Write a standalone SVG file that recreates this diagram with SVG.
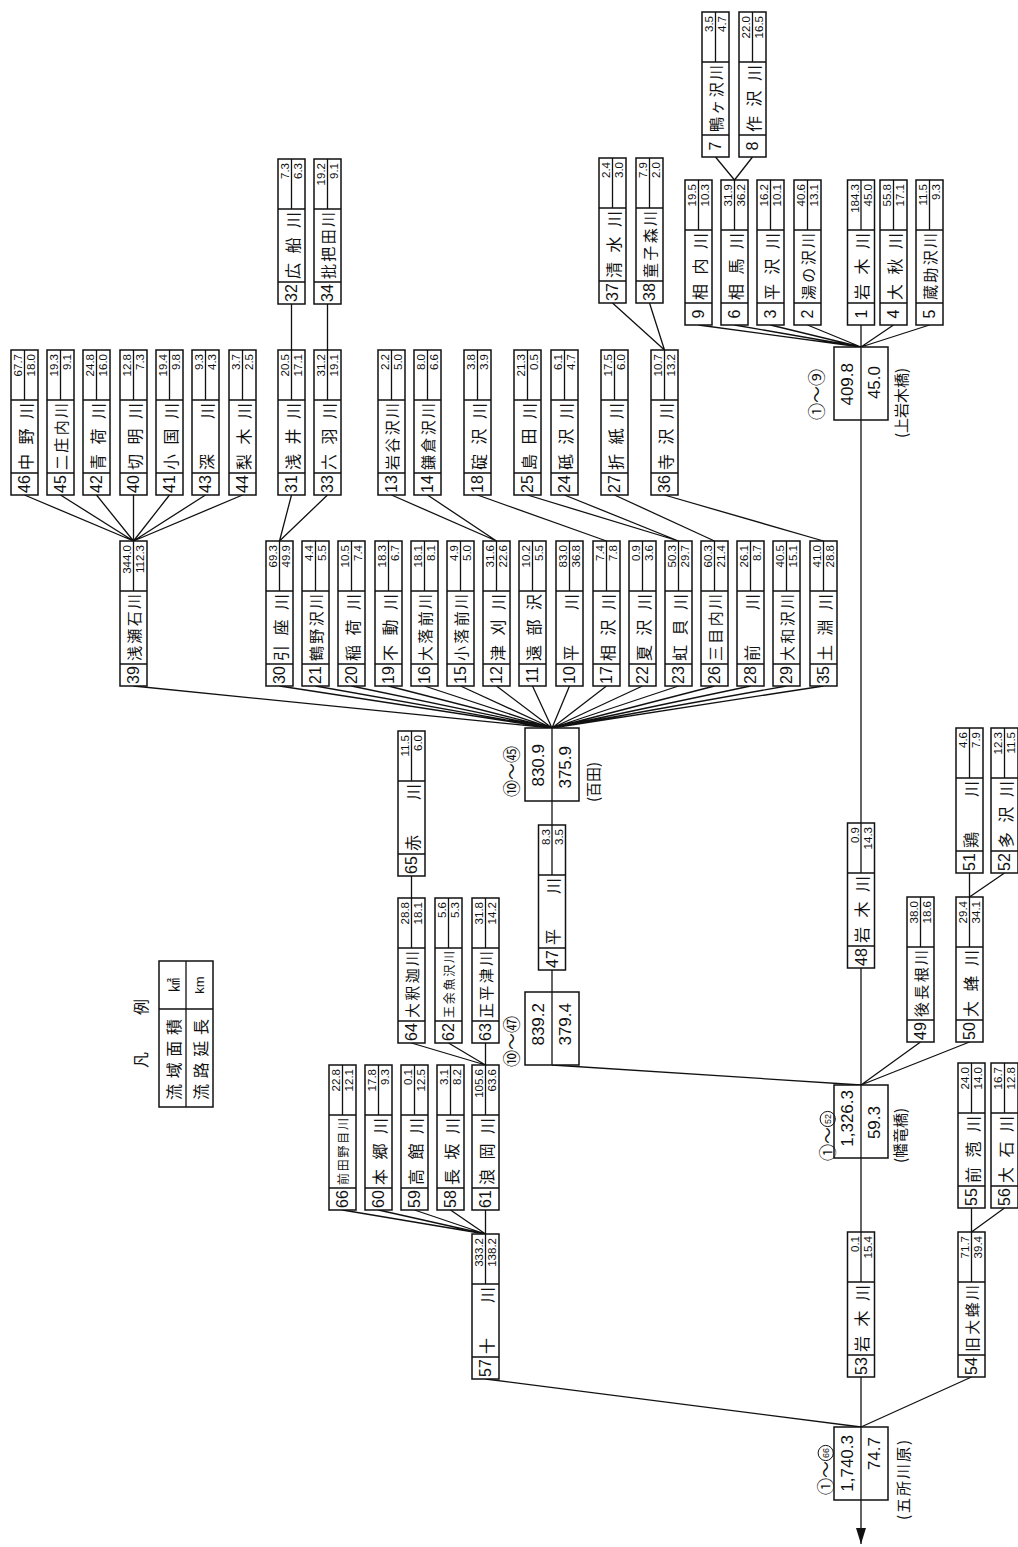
<svg xmlns="http://www.w3.org/2000/svg" width="1018" height="1547" viewBox="0 0 1018 1547">
<style>
.no{font-family:"Liberation Sans",Arial,sans-serif;font-size:16px;text-anchor:middle;dominant-baseline:central;fill:#111}
.n{font-family:"Noto Sans CJK JP",sans-serif;font-size:16px;dominant-baseline:central;fill:#111}
.n4{font-size:15px}
.n5{font-size:12px}
.v{font-family:"Liberation Sans",Arial,sans-serif;font-size:11.5px;text-anchor:end;dominant-baseline:central;fill:#111}
.sv{font-family:"Liberation Sans",Arial,sans-serif;font-size:17px;text-anchor:end;dominant-baseline:central;fill:#111}
.lb{font-family:"Noto Sans CJK JP",sans-serif;font-size:15px;fill:#111}
.cl{font-family:"Noto Sans CJK JP",sans-serif;font-size:17px;fill:#111}
.cn{font-family:"Liberation Sans",Arial,sans-serif;font-size:9px;text-anchor:middle;dominant-baseline:central;fill:#111}
.lg{font-family:"Noto Sans CJK JP",sans-serif;font-size:16px;fill:#111}
.d{fill:none;stroke:#111;stroke-width:1.3}
</style>
<defs>
<g id="tb"><rect width="145" height="27" fill="#fff" stroke="#111" stroke-width="1.5"/><path d="M22 0V27M95 0V27M95 13.5H145" fill="none" stroke="#111" stroke-width="1.3"/></g>
<g id="sb"><rect width="73" height="54" fill="#fff" stroke="#111" stroke-width="1.5"/><path d="M0 27H73" fill="none" stroke="#111" stroke-width="1.3"/></g>
<marker id="ah" markerUnits="userSpaceOnUse" markerWidth="16" markerHeight="10" refX="16" refY="5" orient="auto"><path d="M0 0L16 5L0 10z" fill="#111"/></marker>
</defs>
<rect width="1018" height="1547" fill="#fff"/>
<g id="connectors" class="d">
<path d="M715.5 157L734.5 180M752.5 157L734.5 180"/>
<path d="M698.5 325L861 347M734.5 325L861 347M770.5 325L861 347M807.5 325L861 347M861 325L861 347M893.5 325L861 347M929.5 325L861 347"/>
<path d="M291.5 304L291.5 350M327.5 304L327.5 350"/>
<path d="M612.5 303L664.5 350M649.5 303L664.5 350"/>
<path d="M24.5 495L133.5 541M60.5 495L133.5 541M96.5 495L133.5 541M133.5 495L133.5 541M169.5 495L133.5 541M205.5 495L133.5 541M242.5 495L133.5 541"/>
<path d="M291.5 495L279.5 541M327.5 495L279.5 541"/>
<path d="M391.5 495L496.5 541M427.5 495L496.5 541"/>
<path d="M477.5 495L606.5 541"/>
<path d="M527.5 495L678.5 541M564.5 495L678.5 541"/>
<path d="M614.5 495L714.5 541"/>
<path d="M664.5 495L823.5 541"/>
<path d="M133.5 686L552 728M279.5 686L552 728M315.5 686L552 728M351.5 686L552 728M388.5 686L552 728M424.5 686L552 728M460.5 686L552 728M496.5 686L552 728M532.5 686L552 728M569.5 686L552 728M606.5 686L552 728M642.5 686L552 728M678.5 686L552 728M714.5 686L552 728M750.5 686L552 728M786.5 686L552 728M823.5 686L552 728"/>
<path d="M552 801L552 992"/>
<path d="M552 1065L861 1085"/>
<path d="M861 420L861 1085"/>
<path d="M411.5 876L411.5 898"/>
<path d="M411.5 1043L485.5 1065M448.5 1043L485.5 1065M485.5 1043L485.5 1065"/>
<path d="M342.5 1210L485.5 1234M378.5 1210L485.5 1234M414.5 1210L485.5 1234M450.5 1210L485.5 1234M485.5 1210L485.5 1234"/>
<path d="M969.5 873L969.5 897M1004.5 873L969.5 897"/>
<path d="M920.5 1042L861 1085M969.5 1042L861 1085"/>
<path d="M861 1158L861 1427"/>
<path d="M971.5 1208L971.5 1232M1004.5 1208L971.5 1232"/>
<path d="M485.5 1379L861 1427M971.5 1377L861 1427"/>
<path d="M861 1500L861 1544" marker-end="url(#ah)"/>
</g>

<g id="r7" transform="translate(702,157) rotate(-90)"><use href="#tb"/><text class="no" x="11" y="13.5">7</text><text class="n n4" x="25 42.3 59.7 77" y="13.5">鴨ヶ沢川</text><text class="v" x="141" y="7.2">3.5</text><text class="v" x="141" y="20.3">4.7</text></g>
<g id="r8" transform="translate(739,157) rotate(-90)"><use href="#tb"/><text class="no" x="11" y="13.5">8</text><text class="n" x="25 50.5 76" y="13.5">作沢川</text><text class="v" x="141" y="7.2">22.0</text><text class="v" x="141" y="20.3">16.5</text></g>

<g id="r9" transform="translate(685,325) rotate(-90)"><use href="#tb"/><text class="no" x="11" y="13.5">9</text><text class="n" x="25 50.5 76" y="13.5">相内川</text><text class="v" x="141" y="7.2">19.5</text><text class="v" x="141" y="20.3">10.3</text></g>
<g id="r6" transform="translate(721,325) rotate(-90)"><use href="#tb"/><text class="no" x="11" y="13.5">6</text><text class="n" x="25 50.5 76" y="13.5">相馬川</text><text class="v" x="141" y="7.2">31.9</text><text class="v" x="141" y="20.3">36.2</text></g>
<g id="r3" transform="translate(757,325) rotate(-90)"><use href="#tb"/><text class="no" x="11" y="13.5">3</text><text class="n" x="25 50.5 76" y="13.5">平沢川</text><text class="v" x="141" y="7.2">16.2</text><text class="v" x="141" y="20.3">10.1</text></g>
<g id="r2" transform="translate(794,325) rotate(-90)"><use href="#tb"/><text class="no" x="11" y="13.5">2</text><text class="n n4" x="25 42.3 59.7 77" y="13.5">湯の沢川</text><text class="v" x="141" y="7.2">40.6</text><text class="v" x="141" y="20.3">13.1</text></g>
<g id="r1" transform="translate(847.5,325) rotate(-90)"><use href="#tb"/><text class="no" x="11" y="13.5">1</text><text class="n" x="25 50.5 76" y="13.5">岩木川</text><text class="v" x="141" y="7.2">184.3</text><text class="v" x="141" y="20.3">45.0</text></g>
<g id="r4" transform="translate(880,325) rotate(-90)"><use href="#tb"/><text class="no" x="11" y="13.5">4</text><text class="n" x="25 50.5 76" y="13.5">大秋川</text><text class="v" x="141" y="7.2">55.8</text><text class="v" x="141" y="20.3">17.1</text></g>
<g id="r5" transform="translate(916,325) rotate(-90)"><use href="#tb"/><text class="no" x="11" y="13.5">5</text><text class="n n4" x="25 42.3 59.7 77" y="13.5">蔵助沢川</text><text class="v" x="141" y="7.2">11.5</text><text class="v" x="141" y="20.3">9.3</text></g>

<g id="r32" transform="translate(278,304) rotate(-90)"><use href="#tb"/><text class="no" x="11" y="13.5">32</text><text class="n" x="25 50.5 76" y="13.5">広船川</text><text class="v" x="141" y="7.2">7.3</text><text class="v" x="141" y="20.3">6.3</text></g>
<g id="r34" transform="translate(314,304) rotate(-90)"><use href="#tb"/><text class="no" x="11" y="13.5">34</text><text class="n n4" x="25 42.3 59.7 77" y="13.5">批把田川</text><text class="v" x="141" y="7.2">19.2</text><text class="v" x="141" y="20.3">9.1</text></g>
<g id="r37" transform="translate(599,303) rotate(-90)"><use href="#tb"/><text class="no" x="11" y="13.5">37</text><text class="n" x="25 50.5 76" y="13.5">清水川</text><text class="v" x="141" y="7.2">2.4</text><text class="v" x="141" y="20.3">3.0</text></g>
<g id="r38" transform="translate(636,303) rotate(-90)"><use href="#tb"/><text class="no" x="11" y="13.5">38</text><text class="n n4" x="25 42.3 59.7 77" y="13.5">童子森川</text><text class="v" x="141" y="7.2">7.9</text><text class="v" x="141" y="20.3">2.0</text></g>

<g id="r46" transform="translate(11,495) rotate(-90)"><use href="#tb"/><text class="no" x="11" y="13.5">46</text><text class="n" x="25 50.5 76" y="13.5">中野川</text><text class="v" x="141" y="7.2">67.7</text><text class="v" x="141" y="20.3">18.0</text></g>
<g id="r45" transform="translate(47,495) rotate(-90)"><use href="#tb"/><text class="no" x="11" y="13.5">45</text><text class="n n4" x="25 42.3 59.7 77" y="13.5">二庄内川</text><text class="v" x="141" y="7.2">19.3</text><text class="v" x="141" y="20.3">9.1</text></g>
<g id="r42" transform="translate(83,495) rotate(-90)"><use href="#tb"/><text class="no" x="11" y="13.5">42</text><text class="n" x="25 50.5 76" y="13.5">青荷川</text><text class="v" x="141" y="7.2">24.8</text><text class="v" x="141" y="20.3">16.0</text></g>
<g id="r40" transform="translate(120,495) rotate(-90)"><use href="#tb"/><text class="no" x="11" y="13.5">40</text><text class="n" x="25 50.5 76" y="13.5">切明川</text><text class="v" x="141" y="7.2">12.8</text><text class="v" x="141" y="20.3">7.3</text></g>
<g id="r41" transform="translate(156,495) rotate(-90)"><use href="#tb"/><text class="no" x="11" y="13.5">41</text><text class="n" x="25 50.5 76" y="13.5">小国川</text><text class="v" x="141" y="7.2">19.4</text><text class="v" x="141" y="20.3">9.8</text></g>
<g id="r43" transform="translate(192,495) rotate(-90)"><use href="#tb"/><text class="no" x="11" y="13.5">43</text><text class="n" x="25 76" y="13.5">深川</text><text class="v" x="141" y="7.2">9.3</text><text class="v" x="141" y="20.3">4.3</text></g>
<g id="r44" transform="translate(229,495) rotate(-90)"><use href="#tb"/><text class="no" x="11" y="13.5">44</text><text class="n" x="25 50.5 76" y="13.5">梨木川</text><text class="v" x="141" y="7.2">3.7</text><text class="v" x="141" y="20.3">2.5</text></g>
<g id="r31" transform="translate(278,495) rotate(-90)"><use href="#tb"/><text class="no" x="11" y="13.5">31</text><text class="n" x="25 50.5 76" y="13.5">浅井川</text><text class="v" x="141" y="7.2">20.5</text><text class="v" x="141" y="20.3">17.1</text></g>
<g id="r33" transform="translate(314,495) rotate(-90)"><use href="#tb"/><text class="no" x="11" y="13.5">33</text><text class="n" x="25 50.5 76" y="13.5">六羽川</text><text class="v" x="141" y="7.2">31.2</text><text class="v" x="141" y="20.3">19.1</text></g>
<g id="r13" transform="translate(378,495) rotate(-90)"><use href="#tb"/><text class="no" x="11" y="13.5">13</text><text class="n n4" x="25 42.3 59.7 77" y="13.5">岩谷沢川</text><text class="v" x="141" y="7.2">2.2</text><text class="v" x="141" y="20.3">5.0</text></g>
<g id="r14" transform="translate(414,495) rotate(-90)"><use href="#tb"/><text class="no" x="11" y="13.5">14</text><text class="n n4" x="25 42.3 59.7 77" y="13.5">鎌倉沢川</text><text class="v" x="141" y="7.2">8.0</text><text class="v" x="141" y="20.3">6.6</text></g>
<g id="r18" transform="translate(464,495) rotate(-90)"><use href="#tb"/><text class="no" x="11" y="13.5">18</text><text class="n" x="25 50.5 76" y="13.5">碇沢川</text><text class="v" x="141" y="7.2">3.8</text><text class="v" x="141" y="20.3">3.9</text></g>
<g id="r25" transform="translate(514,495) rotate(-90)"><use href="#tb"/><text class="no" x="11" y="13.5">25</text><text class="n" x="25 50.5 76" y="13.5">島田川</text><text class="v" x="141" y="7.2">21.3</text><text class="v" x="141" y="20.3">0.5</text></g>
<g id="r24" transform="translate(551,495) rotate(-90)"><use href="#tb"/><text class="no" x="11" y="13.5">24</text><text class="n" x="25 50.5 76" y="13.5">砥沢川</text><text class="v" x="141" y="7.2">6.1</text><text class="v" x="141" y="20.3">4.7</text></g>
<g id="r27" transform="translate(601,495) rotate(-90)"><use href="#tb"/><text class="no" x="11" y="13.5">27</text><text class="n" x="25 50.5 76" y="13.5">折紙川</text><text class="v" x="141" y="7.2">17.5</text><text class="v" x="141" y="20.3">6.0</text></g>
<g id="r36" transform="translate(651,495) rotate(-90)"><use href="#tb"/><text class="no" x="11" y="13.5">36</text><text class="n" x="25 50.5 76" y="13.5">寺沢川</text><text class="v" x="141" y="7.2">10.7</text><text class="v" x="141" y="20.3">13.2</text></g>

<g id="r39" transform="translate(120,686) rotate(-90)"><use href="#tb"/><text class="no" x="11" y="13.5">39</text><text class="n n4" x="25 42.3 59.7 77" y="13.5">浅瀬石川</text><text class="v" x="141" y="7.2">344.0</text><text class="v" x="141" y="20.3">112.3</text></g>
<g id="r30" transform="translate(266,686) rotate(-90)"><use href="#tb"/><text class="no" x="11" y="13.5">30</text><text class="n" x="25 50.5 76" y="13.5">引座川</text><text class="v" x="141" y="7.2">69.3</text><text class="v" x="141" y="20.3">49.9</text></g>
<g id="r21" transform="translate(302,686) rotate(-90)"><use href="#tb"/><text class="no" x="11" y="13.5">21</text><text class="n n4" x="25 42.3 59.7 77" y="13.5">鶴野沢川</text><text class="v" x="141" y="7.2">4.4</text><text class="v" x="141" y="20.3">5.5</text></g>
<g id="r20" transform="translate(338,686) rotate(-90)"><use href="#tb"/><text class="no" x="11" y="13.5">20</text><text class="n" x="25 50.5 76" y="13.5">稲荷川</text><text class="v" x="141" y="7.2">10.5</text><text class="v" x="141" y="20.3">7.4</text></g>
<g id="r19" transform="translate(375,686) rotate(-90)"><use href="#tb"/><text class="no" x="11" y="13.5">19</text><text class="n" x="25 50.5 76" y="13.5">不動川</text><text class="v" x="141" y="7.2">18.3</text><text class="v" x="141" y="20.3">6.7</text></g>
<g id="r16" transform="translate(411,686) rotate(-90)"><use href="#tb"/><text class="no" x="11" y="13.5">16</text><text class="n n4" x="25 42.3 59.7 77" y="13.5">大落前川</text><text class="v" x="141" y="7.2">18.1</text><text class="v" x="141" y="20.3">8.1</text></g>
<g id="r15" transform="translate(447,686) rotate(-90)"><use href="#tb"/><text class="no" x="11" y="13.5">15</text><text class="n n4" x="25 42.3 59.7 77" y="13.5">小落前川</text><text class="v" x="141" y="7.2">4.9</text><text class="v" x="141" y="20.3">5.0</text></g>
<g id="r12" transform="translate(483,686) rotate(-90)"><use href="#tb"/><text class="no" x="11" y="13.5">12</text><text class="n" x="25 50.5 76" y="13.5">津刈川</text><text class="v" x="141" y="7.2">31.6</text><text class="v" x="141" y="20.3">22.6</text></g>
<g id="r11" transform="translate(519,686) rotate(-90)"><use href="#tb"/><text class="no" x="11" y="13.5">11</text><text class="n" x="25 50.5 76" y="13.5">遠部沢</text><text class="v" x="141" y="7.2">10.2</text><text class="v" x="141" y="20.3">5.5</text></g>
<g id="r10" transform="translate(556,686) rotate(-90)"><use href="#tb"/><text class="no" x="11" y="13.5">10</text><text class="n" x="25 76" y="13.5">平川</text><text class="v" x="141" y="7.2">83.0</text><text class="v" x="141" y="20.3">36.8</text></g>
<g id="r17" transform="translate(593,686) rotate(-90)"><use href="#tb"/><text class="no" x="11" y="13.5">17</text><text class="n" x="25 50.5 76" y="13.5">相沢川</text><text class="v" x="141" y="7.2">7.4</text><text class="v" x="141" y="20.3">7.8</text></g>
<g id="r22" transform="translate(629,686) rotate(-90)"><use href="#tb"/><text class="no" x="11" y="13.5">22</text><text class="n" x="25 50.5 76" y="13.5">夏沢川</text><text class="v" x="141" y="7.2">0.9</text><text class="v" x="141" y="20.3">3.6</text></g>
<g id="r23" transform="translate(665,686) rotate(-90)"><use href="#tb"/><text class="no" x="11" y="13.5">23</text><text class="n" x="25 50.5 76" y="13.5">虹貝川</text><text class="v" x="141" y="7.2">50.3</text><text class="v" x="141" y="20.3">29.7</text></g>
<g id="r26" transform="translate(701,686) rotate(-90)"><use href="#tb"/><text class="no" x="11" y="13.5">26</text><text class="n n4" x="25 42.3 59.7 77" y="13.5">三目内川</text><text class="v" x="141" y="7.2">60.3</text><text class="v" x="141" y="20.3">21.4</text></g>
<g id="r28" transform="translate(737,686) rotate(-90)"><use href="#tb"/><text class="no" x="11" y="13.5">28</text><text class="n" x="25 76" y="13.5">前川</text><text class="v" x="141" y="7.2">26.1</text><text class="v" x="141" y="20.3">8.7</text></g>
<g id="r29" transform="translate(773,686) rotate(-90)"><use href="#tb"/><text class="no" x="11" y="13.5">29</text><text class="n n4" x="25 42.3 59.7 77" y="13.5">大和沢川</text><text class="v" x="141" y="7.2">40.5</text><text class="v" x="141" y="20.3">15.1</text></g>
<g id="r35" transform="translate(810,686) rotate(-90)"><use href="#tb"/><text class="no" x="11" y="13.5">35</text><text class="n" x="25 50.5 76" y="13.5">土淵川</text><text class="v" x="141" y="7.2">41.0</text><text class="v" x="141" y="20.3">28.8</text></g>

<g id="r65" transform="translate(398,876) rotate(-90)"><use href="#tb"/><text class="no" x="11" y="13.5">65</text><text class="n" x="25 76" y="13.5">赤川</text><text class="v" x="141" y="7.2">11.5</text><text class="v" x="141" y="20.3">6.0</text></g>
<g id="r64" transform="translate(398,1043) rotate(-90)"><use href="#tb"/><text class="no" x="11" y="13.5">64</text><text class="n n4" x="25 42.3 59.7 77" y="13.5">大釈迦川</text><text class="v" x="141" y="7.2">28.8</text><text class="v" x="141" y="20.3">18.1</text></g>
<g id="r62" transform="translate(435,1043) rotate(-90)"><use href="#tb"/><text class="no" x="11" y="13.5">62</text><text class="n n5" x="25 38.8 52.5 66.3 80" y="13.5">王余魚沢川</text><text class="v" x="141" y="7.2">5.6</text><text class="v" x="141" y="20.3">5.3</text></g>
<g id="r63" transform="translate(472,1043) rotate(-90)"><use href="#tb"/><text class="no" x="11" y="13.5">63</text><text class="n n4" x="25 42.3 59.7 77" y="13.5">正平津川</text><text class="v" x="141" y="7.2">31.8</text><text class="v" x="141" y="20.3">14.2</text></g>
<g id="r47" transform="translate(538.5,970) rotate(-90)"><use href="#tb"/><text class="no" x="11" y="13.5">47</text><text class="n" x="25 76" y="13.5">平川</text><text class="v" x="141" y="7.2">8.3</text><text class="v" x="141" y="20.3">3.5</text></g>
<g id="r48" transform="translate(847.5,968) rotate(-90)"><use href="#tb"/><text class="no" x="11" y="13.5">48</text><text class="n" x="25 50.5 76" y="13.5">岩木川</text><text class="v" x="141" y="7.2">0.9</text><text class="v" x="141" y="20.3">14.3</text></g>
<g id="r51" transform="translate(956,873) rotate(-90)"><use href="#tb"/><text class="no" x="11" y="13.5">51</text><text class="n" x="25 76" y="13.5">鶏川</text><text class="v" x="141" y="7.2">4.6</text><text class="v" x="141" y="20.3">7.9</text></g>
<g id="r52" transform="translate(991,873) rotate(-90)"><use href="#tb"/><text class="no" x="11" y="13.5">52</text><text class="n" x="25 50.5 76" y="13.5">多沢川</text><text class="v" x="141" y="7.2">12.3</text><text class="v" x="141" y="20.3">11.5</text></g>
<g id="r49" transform="translate(907,1042) rotate(-90)"><use href="#tb"/><text class="no" x="11" y="13.5">49</text><text class="n n4" x="25 42.3 59.7 77" y="13.5">後長根川</text><text class="v" x="141" y="7.2">38.0</text><text class="v" x="141" y="20.3">18.6</text></g>
<g id="r50" transform="translate(956,1042) rotate(-90)"><use href="#tb"/><text class="no" x="11" y="13.5">50</text><text class="n" x="25 50.5 76" y="13.5">大蜂川</text><text class="v" x="141" y="7.2">29.4</text><text class="v" x="141" y="20.3">34.1</text></g>
<g id="r66" transform="translate(329,1210) rotate(-90)"><use href="#tb"/><text class="no" x="11" y="13.5">66</text><text class="n n5" x="25 38.8 52.5 66.3 80" y="13.5">前田野目川</text><text class="v" x="141" y="7.2">22.8</text><text class="v" x="141" y="20.3">12.1</text></g>
<g id="r60" transform="translate(365,1210) rotate(-90)"><use href="#tb"/><text class="no" x="11" y="13.5">60</text><text class="n" x="25 50.5 76" y="13.5">本郷川</text><text class="v" x="141" y="7.2">17.8</text><text class="v" x="141" y="20.3">9.3</text></g>
<g id="r59" transform="translate(401,1210) rotate(-90)"><use href="#tb"/><text class="no" x="11" y="13.5">59</text><text class="n" x="25 50.5 76" y="13.5">高館川</text><text class="v" x="141" y="7.2">0.1</text><text class="v" x="141" y="20.3">12.5</text></g>
<g id="r58" transform="translate(437,1210) rotate(-90)"><use href="#tb"/><text class="no" x="11" y="13.5">58</text><text class="n" x="25 50.5 76" y="13.5">長坂川</text><text class="v" x="141" y="7.2">3.1</text><text class="v" x="141" y="20.3">8.2</text></g>
<g id="r61" transform="translate(472,1210) rotate(-90)"><use href="#tb"/><text class="no" x="11" y="13.5">61</text><text class="n" x="25 50.5 76" y="13.5">浪岡川</text><text class="v" x="141" y="7.2">105.6</text><text class="v" x="141" y="20.3">63.6</text></g>
<g id="r55" transform="translate(958,1208) rotate(-90)"><use href="#tb"/><text class="no" x="11" y="13.5">55</text><text class="n" x="25 50.5 76" y="13.5">前萢川</text><text class="v" x="141" y="7.2">24.0</text><text class="v" x="141" y="20.3">14.0</text></g>
<g id="r56" transform="translate(991,1208) rotate(-90)"><use href="#tb"/><text class="no" x="11" y="13.5">56</text><text class="n" x="25 50.5 76" y="13.5">大石川</text><text class="v" x="141" y="7.2">16.7</text><text class="v" x="141" y="20.3">12.8</text></g>
<g id="r57" transform="translate(472,1379) rotate(-90)"><use href="#tb"/><text class="no" x="11" y="13.5">57</text><text class="n" x="25 76" y="13.5">十川</text><text class="v" x="141" y="7.2">333.2</text><text class="v" x="141" y="20.3">138.2</text></g>
<g id="r53" transform="translate(847.5,1377) rotate(-90)"><use href="#tb"/><text class="no" x="11" y="13.5">53</text><text class="n" x="25 50.5 76" y="13.5">岩木川</text><text class="v" x="141" y="7.2">0.1</text><text class="v" x="141" y="20.3">15.4</text></g>
<g id="r54" transform="translate(958,1377) rotate(-90)"><use href="#tb"/><text class="no" x="11" y="13.5">54</text><text class="n n4" x="25 42.3 59.7 77" y="13.5">旧大蜂川</text><text class="v" x="141" y="7.2">71.7</text><text class="v" x="141" y="20.3">39.4</text></g>

<g id="s1" transform="translate(834,420) rotate(-90)"><use href="#sb"/><text class="sv" x="57" y="13.5">409.8</text><text class="sv" x="54" y="40.5">45.0</text></g>
<g id="s2" transform="translate(525,801) rotate(-90)"><use href="#sb"/><text class="sv" x="57" y="13.5">830.9</text><text class="sv" x="55" y="40.5">375.9</text></g>
<g id="s3" transform="translate(525,1065) rotate(-90)"><use href="#sb"/><text class="sv" x="62" y="13.5">839.2</text><text class="sv" x="62" y="40.5">379.4</text></g>
<g id="s4" transform="translate(834,1158) rotate(-90)"><use href="#sb"/><text class="sv" x="68" y="13.5">1,326.3</text><text class="sv" x="52" y="40.5">59.3</text></g>
<g id="s5" transform="translate(834,1500) rotate(-90)"><use href="#sb"/><text class="sv" x="65" y="13.5">1,740.3</text><text class="sv" x="63" y="40.5">74.7</text></g>

<g id="labels">
<text class="cl" transform="translate(823,420) rotate(-90)">①～⑨</text>
<text class="cl" transform="translate(518,797) rotate(-90)">⑩～㊺</text>
<text class="cl" transform="translate(518,1067) rotate(-90)">⑩～㊼</text>
<g transform="translate(834,1161) rotate(-90)"><text class="cl" x="0" y="0">①～</text><circle cx="42" cy="-6.3" r="7.6" fill="none" stroke="#111" stroke-width="1"/><text class="cn" x="42" y="-6.3">52</text></g>
<g transform="translate(832,1495) rotate(-90)"><text class="cl" x="0" y="0">①～</text><circle cx="42" cy="-6.3" r="7.6" fill="none" stroke="#111" stroke-width="1"/><text class="cn" x="42" y="-6.3">66</text></g>
<text class="lb" transform="translate(907,438) rotate(-90)">(上岩木橋)</text>
<text class="lb" transform="translate(599,802) rotate(-90)">(百田)</text>
<text class="lb" transform="translate(906,1163) rotate(-90)">(幡竜橋)</text>
<text class="lb" transform="translate(909,1520) rotate(-90)" letter-spacing="2">(五所川原)</text>
</g>

<g id="legend">
<text class="lg" transform="translate(147,1068) rotate(-90)" x="0 53">凡例</text>
<rect x="159" y="961" width="54" height="146" fill="#fff" stroke="#111" stroke-width="1.5"/>
<path class="d" d="M186 961V1107M159 1009H213"/>
<g transform="translate(159,1107) rotate(-90)">
<text class="n" x="7 28.7 50.3 72" y="13.5">流域面積</text>
<text class="n" x="7 28.7 50.3 72" y="40.5">流路延長</text>
<text class="n" x="122" y="13.5" style="text-anchor:middle;font-size:14px">㎢</text>
<text class="v" x="122" y="40.5" style="text-anchor:middle;font-size:13px">km</text>
</g>
</g>
</svg>
